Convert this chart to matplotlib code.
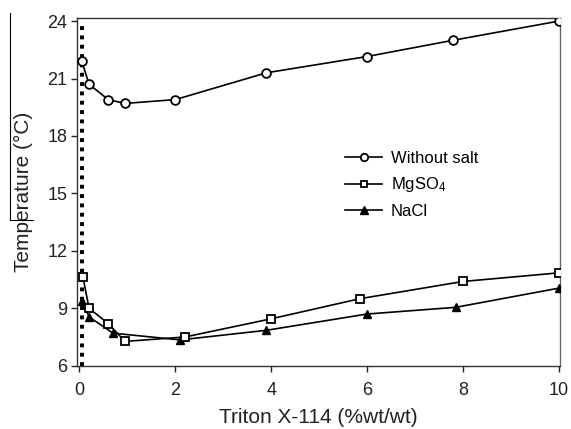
import numpy as np
import matplotlib
matplotlib.use('Agg')
import matplotlib.pyplot as plt
from matplotlib.lines import Line2D

plt.rcParams['font.family'] = ['Liberation Sans', 'DejaVu Sans']
plt.rcParams['mathtext.fontset'] = 'custom'
plt.rcParams['mathtext.rm'] = 'Liberation Sans'
plt.rcParams['mathtext.it'] = 'Liberation Sans'

# Data
x_nosalt = [0.05, 0.2, 0.6, 0.95, 2.0, 3.9, 6.0, 7.8, 10.0]
y_nosalt = [21.9, 20.7, 19.9, 19.7, 19.9, 21.3, 22.15, 23.0, 24.0]

x_mgso4 = [0.07, 0.2, 0.6, 0.95, 2.2, 4.0, 5.85, 8.0, 10.0]
y_mgso4 = [10.65, 9.0, 8.2, 7.27, 7.5, 8.45, 9.5, 10.4, 10.85]

x_nacl = [0.05, 0.2, 0.7, 2.1, 3.9, 6.0, 7.85, 10.0]
y_nacl = [9.4, 8.55, 7.7, 7.35, 7.85, 8.7, 9.05, 10.05]

x_dotted = [0.05, 0.05]
y_dotted = [6.0, 23.8]

xticks = [0, 2, 4, 6, 8, 10]
yticks = [6, 9, 12, 15, 18, 21, 24]

fig = plt.figure(figsize=(5.71, 4.29), dpi=100)
ax = fig.add_axes([0.135, 0.1475, 0.846, 0.81])

# dotted vertical line near x=0
ax.plot(x_dotted, y_dotted, color='black', linestyle=(0, (1, 1.4)), linewidth=2.8, zorder=2)

ax.plot(x_nosalt, y_nosalt, color='black', linewidth=1.2, marker='o', markersize=6.3,
        markerfacecolor='white', markeredgecolor='black', markeredgewidth=1.3,
        label='Without salt', zorder=3)
ax.plot(x_mgso4, y_mgso4, color='black', linewidth=1.2, marker='s', markersize=5.8,
        markerfacecolor='white', markeredgecolor='black', markeredgewidth=1.3,
        label='MgSO$_4$', zorder=4)
ax.plot(x_nacl, y_nacl, color='black', linewidth=1.2, marker='^', markersize=6.3,
        markerfacecolor='black', markeredgecolor='black',
        label='NaCl', zorder=3)

ax.set_xlim(-0.05, 10.03)
ax.set_ylim(6, 24.15)
ax.set_xticks(xticks)
ax.set_yticks(yticks)
ax.tick_params(axis='both', direction='out', length=4, width=1, labelsize=13, pad=3,
               colors='#222222', labelcolor='#222222')
ax.tick_params(axis='x', pad=8)
for side in ['left', 'bottom', 'top', 'right']:
    ax.spines[side].set_linewidth(1.0)
    ax.spines[side].set_color('#333333')
ax.spines['right'].set_color('#666666')

ax.set_xlabel('Triton X-114 (%wt/wt)', fontsize=15, color='#222222', labelpad=6)
ax.set_ylabel('Temperature (\u00b0C)', fontsize=15, color='#222222', labelpad=10)

ax.legend(loc='upper left', bbox_to_anchor=(0.555, 0.617), frameon=False, fontsize=12,
          handlelength=2.2, handletextpad=0.55, labelspacing=0.55,
          borderpad=0, borderaxespad=0, markerscale=0.85)

# stray scan line at the left edge
fig.add_artist(Line2D([10 / 571, 10 / 571], [1 - 13 / 429, 1 - 220 / 429],
                      color='black', linewidth=0.8))
fig.add_artist(Line2D([10 / 571, 33 / 571], [1 - 220 / 429, 1 - 220 / 429],
                      color='black', linewidth=0.8))

fig.savefig('out.png', dpi=100)
